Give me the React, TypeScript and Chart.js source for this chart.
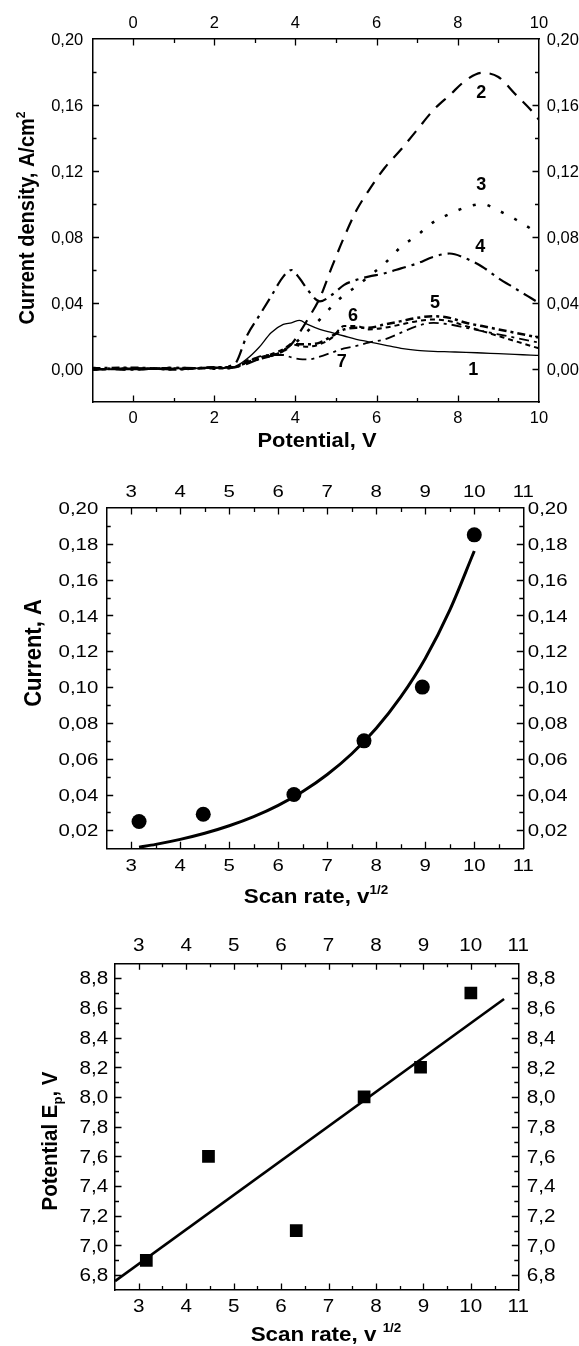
import React, { useEffect, useRef } from 'react';
import { Chart, registerables } from 'chart.js';

Chart.register(...registerables);

const FONT = "'Liberation Sans', Arial, sans-serif";

// ---------------- Chart 1: current density vs potential ----------------
const potentials = [-1, 0, 1, 2, 2.5, 2.8, 3.1, 3.4, 3.7, 3.9, 4.1, 4.3, 4.6, 4.9, 5.2, 5.5, 5.8, 6.2, 6.6, 7.0, 7.4, 7.8, 8.2, 8.6, 9.0, 9.4, 9.8, 10];
const curve1 = [0.0002, -0.0004, 0.0003, 0.0006, 0.0015, 0.006, 0.013, 0.022, 0.027, 0.028, 0.0295, 0.027, 0.024, 0.022, 0.020, 0.018, 0.0165, 0.0145, 0.0125, 0.0113, 0.0107, 0.0104, 0.0101, 0.0097, 0.0093, 0.0089, 0.0084, 0.0082];
const curve2 = [-0.0004, 0.0005, -0.0002, 0.0009, 0.001, 0.003, 0.006, 0.008, 0.011, 0.015, 0.022, 0.030, 0.043, 0.062, 0.080, 0.096, 0.108, 0.122, 0.133, 0.145, 0.157, 0.166, 0.175, 0.1795, 0.177, 0.167, 0.157, 0.151];
const curve3 = [0.0006, -0.0002, 0.0007, 0.0002, 0.001, 0.004, 0.006, 0.008, 0.011, 0.014, 0.018, 0.023, 0.030, 0.038, 0.045, 0.050, 0.056, 0.064, 0.074, 0.081, 0.089, 0.094, 0.098, 0.100, 0.096, 0.091, 0.085, 0.082];
const curve4 = [-0.0002, 0.0003, 0.0001, 0.0008, 0.003, 0.020, 0.032, 0.044, 0.056, 0.060, 0.055, 0.048, 0.041, 0.045, 0.051, 0.054, 0.056, 0.058, 0.061, 0.064, 0.068, 0.070, 0.067, 0.062, 0.055, 0.049, 0.043, 0.040];
const curve5 = [0.0004, 0.0008, -0.0003, 0.0011, 0.001, 0.004, 0.006, 0.008, 0.011, 0.015, 0.015, 0.015, 0.016, 0.020, 0.024, 0.025, 0.025, 0.027, 0.029, 0.031, 0.032, 0.031, 0.028, 0.026, 0.024, 0.022, 0.020, 0.019];
const curve6 = [-0.0005, 0.0001, 0.0005, 0.0003, 0.001, 0.005, 0.007, 0.009, 0.012, 0.015, 0.014, 0.0135, 0.015, 0.019, 0.026, 0.026, 0.024, 0.025, 0.027, 0.029, 0.030, 0.029, 0.026, 0.023, 0.020, 0.017, 0.014, 0.0125];
const curve7 = [0.0001, -0.0005, 0.0009, 0.0005, 0.001, 0.004, 0.0075, 0.0085, 0.0085, 0.007, 0.006, 0.0058, 0.0075, 0.010, 0.0125, 0.014, 0.016, 0.018, 0.022, 0.026, 0.028, 0.027, 0.025, 0.023, 0.021, 0.019, 0.017, 0.016];
const curveNames = ['1', '2', '3', '4', '5', '6', '7'];
const curveLabelX = [8.38, 8.58, 8.58, 8.55, 7.44, 5.42, 5.14];
const curveLabelY = [-0.0006, 0.167, 0.1115, 0.074, 0.040, 0.032, 0.0044];
const potentialTicks = [0, 2, 4, 6, 8, 10];
const potentialMinor = [1, 3, 5, 7, 9];
const densityTicks = [0, 0.04, 0.08, 0.12, 0.16, 0.2];
const densityMinor = [0.02, 0.06, 0.1, 0.14, 0.18];

// ---------------- Chart 2: current vs scan rate ----------------
const scanRate = [3.16, 4.47, 6.32, 7.75, 8.94, 10.0];
const peakCurrent = [0.025, 0.029, 0.040, 0.070, 0.100, 0.185];
const fitRate = [3.16, 3.5, 4.0, 4.5, 5.0, 5.5, 6.0, 6.5, 7.0, 7.5, 8.0, 8.5, 9.0, 9.5, 10.0];
const fitCurrent = [0.0106, 0.0122, 0.0150, 0.0184, 0.0226, 0.0277, 0.0340, 0.0417, 0.0512, 0.0628, 0.0770, 0.0945, 0.116, 0.143, 0.176];
const rateTicks = [3, 4, 5, 6, 7, 8, 9, 10, 11];
const rateMinor = [3.5, 4.5, 5.5, 6.5, 7.5, 8.5, 9.5, 10.5];
const currentTicks = [0.02, 0.04, 0.06, 0.08, 0.1, 0.12, 0.14, 0.16, 0.18, 0.2];
const currentMinor = [0.03, 0.05, 0.07, 0.09, 0.11, 0.13, 0.15, 0.17, 0.19];

// ---------------- Chart 3: peak potential vs scan rate ----------------
const peakPotential = [6.9, 7.6, 7.1, 8.0, 8.2, 8.7];
const lineRate = [2.5, 10.7];
const linePotential = [6.76, 8.66];
const epTicks = [6.8, 7.0, 7.2, 7.4, 7.6, 7.8, 8.0, 8.2, 8.4, 8.6, 8.8];
const epMinor = [6.9, 7.1, 7.3, 7.5, 7.7, 7.9, 8.1, 8.3, 8.5, 8.7];

const comma = (v: number, d: number) => v.toFixed(d).replace('.', ',');
const pts = (xs: number[], ys: number[]) => xs.map((x, i) => ({ x, y: ys[i] }));

// inward tick marks on all four sides
const innerTicks = {
  id: 'innerTicks',
  afterDraw(chart: any, _args: any, opts: any) {
    const { ctx, chartArea: a } = chart;
    const xs = chart.scales.x;
    const ys = chart.scales.y;
    ctx.save();
    ctx.strokeStyle = '#000';
    ctx.lineWidth = 1.3;
    const drawX = (vals: number[], len: number) => {
      vals.forEach((v) => {
        const p = Math.round(xs.getPixelForValue(v)) + 0.5;
        if (p <= a.left + 1 || p >= a.right - 1) return;
        ctx.beginPath();
        ctx.moveTo(p, a.bottom); ctx.lineTo(p, a.bottom - len);
        ctx.moveTo(p, a.top); ctx.lineTo(p, a.top + len);
        ctx.stroke();
      });
    };
    const drawY = (vals: number[], len: number) => {
      vals.forEach((v) => {
        const p = Math.round(ys.getPixelForValue(v)) + 0.5;
        if (p <= a.top + 1 || p >= a.bottom - 1) return;
        ctx.beginPath();
        ctx.moveTo(a.left, p); ctx.lineTo(a.left + len, p);
        ctx.moveTo(a.right, p); ctx.lineTo(a.right - len, p);
        ctx.stroke();
      });
    };
    drawX(opts.xMajor || [], 6.5);
    drawX(opts.xMinor || [], 4);
    drawY(opts.yMajor || [], 6.5);
    drawY(opts.yMinor || [], 4);
    ctx.restore();
  },
};

// tick labels on all four sides (slightly widened glyphs like the scanned figure)
const tickLabels = {
  id: 'tickLabels',
  afterDraw(chart: any, _args: any, o: any) {
    const { ctx, chartArea: a } = chart;
    const xs = chart.scales.x;
    const ys = chart.scales.y;
    ctx.save();
    ctx.fillStyle = '#000';
    ctx.font = `${o.size}px ${FONT}`;
    ctx.textBaseline = 'alphabetic';
    const capHalf = (o.size * 0.716) / 2;
    const put = (text: string, x: number, cy: number, align: string) => {
      ctx.save();
      ctx.translate(x, cy + capHalf);
      ctx.scale(o.sx, 1);
      ctx.textAlign = align;
      ctx.fillText(text, 0, 0);
      ctx.restore();
    };
    (o.xTicks || []).forEach((v: number) => {
      const px = xs.getPixelForValue(v);
      const t = comma(v, o.xDigits);
      put(t, px, a.bottom + o.padB, 'center');
      put(t, px, a.top - o.padT, 'center');
    });
    (o.yTicks || []).forEach((v: number) => {
      const py = ys.getPixelForValue(v);
      const t = comma(v, o.yDigits);
      put(t, a.left - o.padL, py, 'right');
      put(t, a.right + o.padR, py, 'left');
    });
    ctx.restore();
  },
};

type Part = { t: string; size: number; dy?: number };
type RichTitle = { parts: Part[]; x: number; y: number; rot?: boolean; sx?: number };

const richTitles = {
  id: 'richTitles',
  afterDraw(chart: any, _args: any, opts: any) {
    const ctx = chart.ctx;
    const titles: RichTitle[] = opts.items || [];
    titles.forEach((tt) => {
      const sx = tt.sx || 1;
      ctx.save();
      ctx.translate(tt.x, tt.y);
      if (tt.rot) { ctx.rotate(-Math.PI / 2); ctx.scale(1, sx); } else { ctx.scale(sx, 1); }
      let total = 0;
      const widths = tt.parts.map((p) => {
        ctx.font = `bold ${p.size}px ${FONT}`;
        const w = ctx.measureText(p.t).width;
        total += w;
        return w;
      });
      const base = tt.parts[0].size * 0.36;
      let cx = -total / 2;
      ctx.fillStyle = '#000';
      ctx.textAlign = 'left';
      ctx.textBaseline = 'alphabetic';
      tt.parts.forEach((p, i) => {
        ctx.font = `bold ${p.size}px ${FONT}`;
        ctx.fillText(p.t, cx, base + (p.dy || 0));
        cx += widths[i];
      });
      ctx.restore();
    });
  },
};

const curveLabels = {
  id: 'curveLabels',
  afterDatasetsDraw(chart: any, _args: any, opts: any) {
    if (!opts.names) return;
    const ctx = chart.ctx;
    ctx.save();
    ctx.font = `bold ${opts.size}px ${FONT}`;
    ctx.fillStyle = '#000';
    ctx.textAlign = 'center';
    ctx.textBaseline = 'middle';
    opts.names.forEach((n: string, i: number) => {
      ctx.fillText(n, chart.scales.x.getPixelForValue(opts.xs[i]), chart.scales.y.getPixelForValue(opts.ys[i]));
    });
    ctx.restore();
  },
};

function axis(position: string, min: number, max: number, ticks: number[], fit: number) {
  const vertical = position === 'left' || position === 'right';
  return {
    type: 'linear',
    position,
    min,
    max,
    afterBuildTicks: (s: any) => { s.ticks = ticks.map((v) => ({ value: v })); },
    afterFit: (s: any) => { if (vertical) s.width = fit; else s.height = fit; },
    ticks: { display: false, autoSkip: false },
    grid: { display: false, drawTicks: false },
    border: { display: true, color: '#000', width: 1.5 },
  };
}

function lineDs(data: any[], width: number, dash: number[]) {
  return { data, showLine: true, borderColor: '#000', borderWidth: width, borderDash: dash, pointRadius: 0, fill: false, cubicInterpolationMode: 'monotone', borderCapStyle: 'butt' };
}

function useChart(ref: React.RefObject<HTMLCanvasElement>, makeConfig: () => any) {
  useEffect(() => {
    if (!ref.current) return;
    const c = new Chart(ref.current, makeConfig());
    return () => c.destroy();
  }, []);
}

const baseOptions = (scales: any, plugins: any) => ({
  responsive: false,
  animation: false,
  devicePixelRatio: 1,
  layout: { padding: 0 },
  scales,
  plugins: { legend: { display: false }, tooltip: { enabled: false }, ...plugins },
});

export default function App() {
  const r1 = useRef<HTMLCanvasElement>(null);
  const r2 = useRef<HTMLCanvasElement>(null);
  const r3 = useRef<HTMLCanvasElement>(null);

  useChart(r1, () => ({
    type: 'scatter',
    data: {
      datasets: [
        lineDs(pts(potentials, curve1), 1.3, []),
        lineDs(pts(potentials, curve2), 2.2, [13, 9]),
        lineDs(pts(potentials, curve3), 2.6, [3, 12]),
        lineDs(pts(potentials, curve4), 2.2, [14, 6, 3, 6]),
        lineDs(pts(potentials, curve5), 2.5, [8, 4, 3, 4]),
        lineDs(pts(potentials, curve6), 2.0, [5, 4]),
        lineDs(pts(potentials, curve7), 1.8, [10, 5, 3, 5]),
      ],
    },
    options: baseOptions(
      {
        x: axis('bottom', -1, 10, potentialTicks, 60),
        x2: axis('top', -1, 10, potentialTicks, 39),
        y: axis('left', -0.02, 0.2, densityTicks, 92.5),
        y2: axis('right', -0.02, 0.2, densityTicks, 40),
      },
      {
        innerTicks: { xMajor: potentialTicks, xMinor: potentialMinor, yMajor: densityTicks, yMinor: densityMinor },
        tickLabels: { xTicks: potentialTicks, yTicks: densityTicks, xDigits: 0, yDigits: 2, size: 16.5, sx: 1.0, padB: 15, padT: 16.5, padL: 9.2, padR: 7.7 },
        curveLabels: { names: curveNames, xs: curveLabelX, ys: curveLabelY, size: 18 },
        richTitles: {
          items: [
            { parts: [{ t: 'Current density, A/cm', size: 20 }, { t: '2', size: 12, dy: -8 }], x: 26, y: 218, rot: true, sx: 1.1 },
            { parts: [{ t: 'Potential, V', size: 19.5 }], x: 317, y: 440, sx: 1.12 },
          ],
        },
      }
    ),
    plugins: [innerTicks, tickLabels, curveLabels, richTitles],
  }));

  useChart(r2, () => ({
    type: 'scatter',
    data: {
      datasets: [
        { data: pts(scanRate, peakCurrent), pointRadius: 7.5, pointBackgroundColor: '#000', pointBorderWidth: 0, showLine: false },
        { data: pts(fitRate, fitCurrent), showLine: true, borderColor: '#000', borderWidth: 3, pointRadius: 0, cubicInterpolationMode: 'monotone' },
      ],
    },
    options: baseOptions(
      {
        x: axis('bottom', 2.5, 11, rateTicks, 66.7),
        x2: axis('top', 2.5, 11, rateTicks, 46),
        y: axis('left', 0.01, 0.2, currentTicks, 106.7),
        y2: axis('right', 0.01, 0.2, currentTicks, 55.7),
      },
      {
        innerTicks: { xMajor: rateTicks, xMinor: rateMinor, yMajor: currentTicks, yMinor: currentMinor },
        tickLabels: { xTicks: rateTicks, yTicks: currentTicks, xDigits: 0, yDigits: 2, size: 17, sx: 1.2, padB: 16.7, padT: 17, padL: 8.4, padR: 4.5 },
        richTitles: {
          items: [
            { parts: [{ t: 'Current, A', size: 22 }], x: 33, y: 191, rot: true, sx: 1.05 },
            { parts: [{ t: 'Scan rate, v', size: 20 }, { t: '1/2', size: 12, dy: -9 }], x: 316, y: 434, sx: 1.12 },
          ],
        },
      }
    ),
    plugins: [innerTicks, tickLabels, richTitles],
  }));

  useChart(r3, () => ({
    type: 'scatter',
    data: {
      datasets: [
        { data: pts(scanRate, peakPotential), pointStyle: 'rect', pointRadius: 9, pointBackgroundColor: '#000', pointBorderWidth: 0, showLine: false },
        { data: pts(lineRate, linePotential), showLine: true, borderColor: '#000', borderWidth: 2.6, pointRadius: 0 },
      ],
    },
    options: baseOptions(
      {
        x: axis('bottom', 2.5, 11, rateTicks, 56),
        x2: axis('top', 2.5, 11, rateTicks, 48.3),
        y: axis('left', 6.7, 8.9, epTicks, 115),
        y2: axis('right', 6.7, 8.9, epTicks, 60.7),
      },
      {
        innerTicks: { xMajor: rateTicks, xMinor: rateMinor, yMajor: epTicks, yMinor: epMinor },
        tickLabels: { xTicks: rateTicks, yTicks: epTicks, xDigits: 0, yDigits: 1, size: 17.5, sx: 1.18, padB: 16, padT: 18.3, padL: 6.7, padR: 8.4 },
        richTitles: {
          items: [
            { parts: [{ t: 'Potential E', size: 20.5 }, { t: 'p', size: 13, dy: 5 }, { t: ', V', size: 20.5 }], x: 49, y: 226, rot: true, sx: 1.05 },
            { parts: [{ t: 'Scan rate, v ', size: 20 }, { t: '1/2', size: 12, dy: -9 }], x: 326, y: 419, sx: 1.12 },
          ],
        },
      }
    ),
    plugins: [innerTicks, tickLabels, richTitles],
  }));

  return (
    <div style={{ position: 'absolute', left: 0, top: 0, width: 579, height: 1346, background: '#fff' }}>
      <canvas ref={r1} width={579} height={462} style={{ display: 'block', width: 579, height: 462 }} />
      <canvas ref={r2} width={579} height={453} style={{ display: 'block', width: 579, height: 453 }} />
      <canvas ref={r3} width={579} height={431} style={{ display: 'block', width: 579, height: 431 }} />
    </div>
  );
}
